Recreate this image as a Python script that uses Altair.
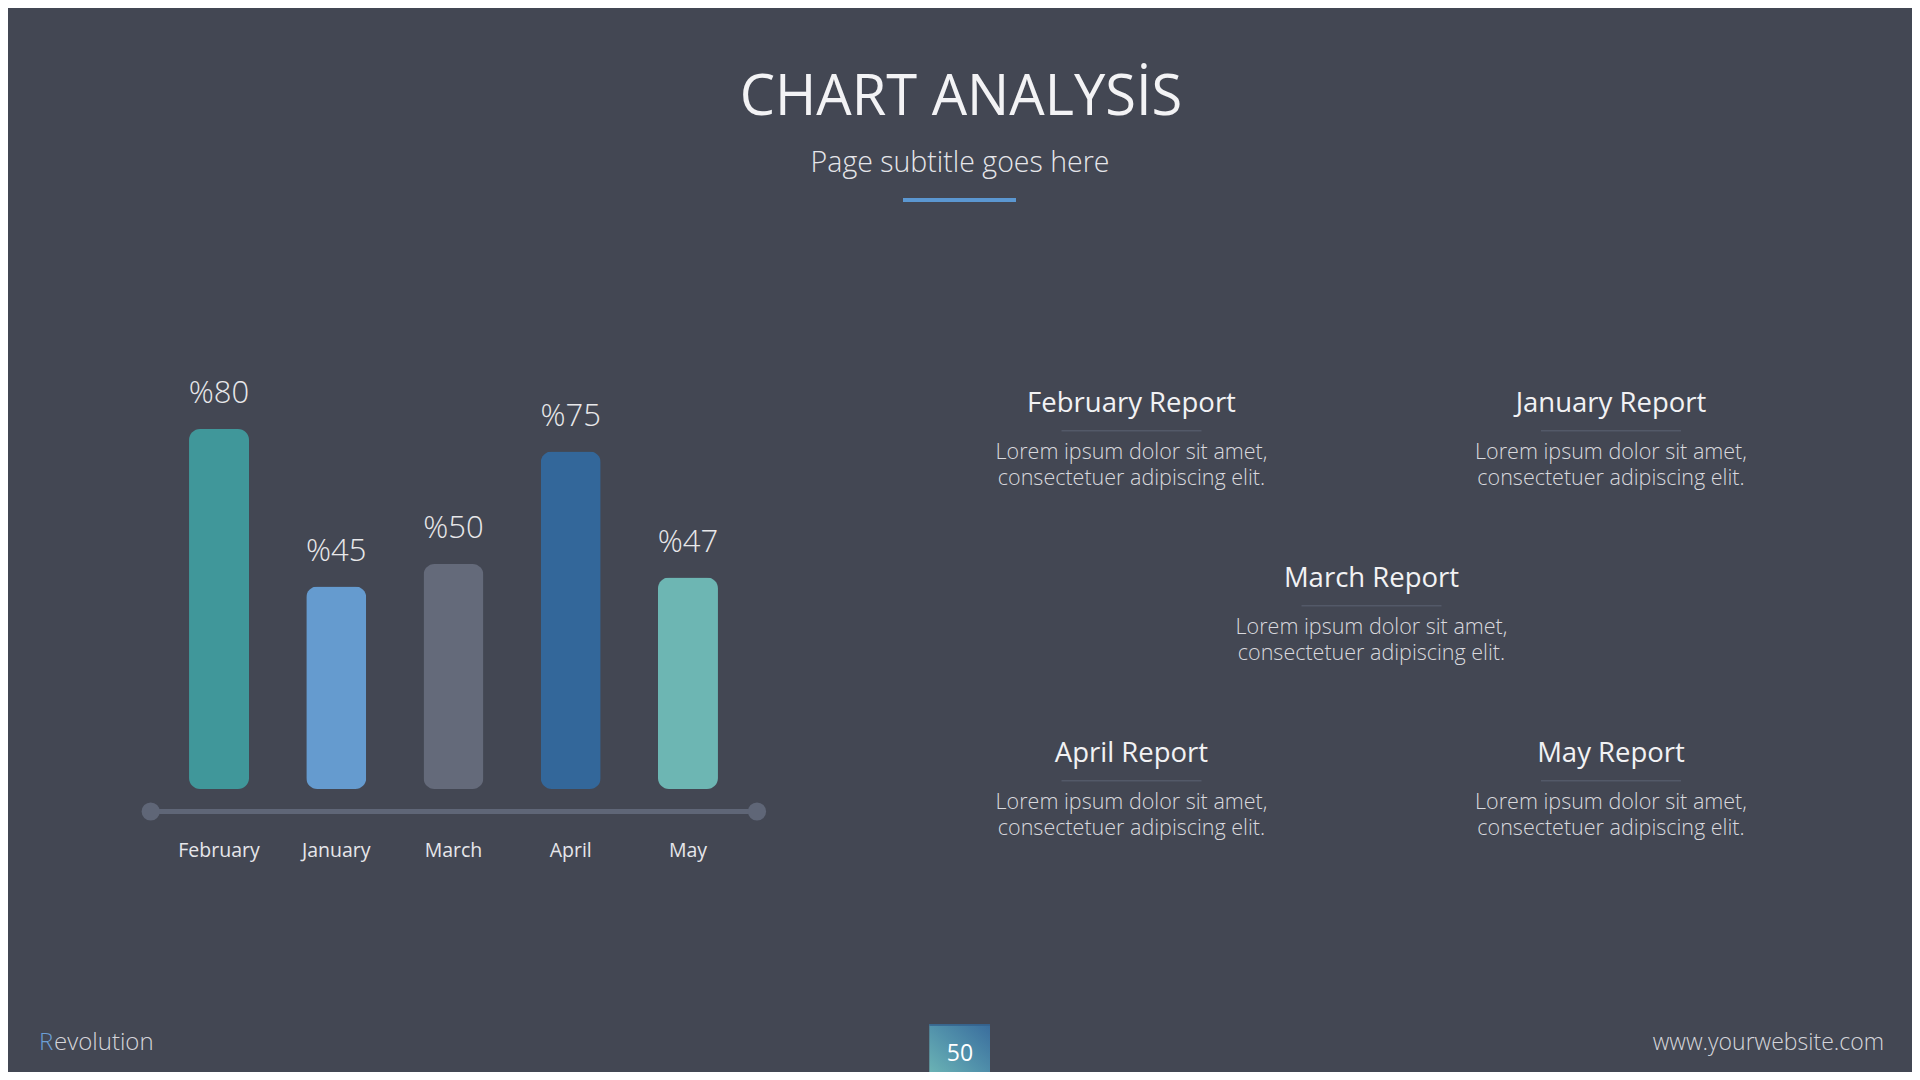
import altair as alt
import pandas as pd

# ---------------- data ----------------
months = ["February", "January", "March", "April", "May"]
values = [80, 45, 50, 75, 47]
bar_colors = ["#40979a", "#659bcf", "#646a7a", "#33679a", "#6db6b3"]

title_text = "CHART ANALYSİS"
subtitle_text = "Page subtitle goes here"
report_titles = ["February Report", "January Report", "March Report", "April Report", "May Report"]
body_line1 = "Lorem ipsum dolor sit amet,"
body_line2 = "consectetuer adipiscing elit."
brand_first = "R"
brand_rest = "evolution"
page_number = "50"
website = "www.yourwebsite.com"

# ---------------- style / layout ----------------
OFF = 8  # page margin
W, H = 1920 - 2 * OFF, 1080 - 2 * OFF
BG = "#434753"
FONT = "Open Sans"


def px(v):
    return v - OFF


df = pd.DataFrame({"month": months, "value": values})

xscale = alt.Scale(domain=months, range=[px(160.4), px(746.6)], paddingInner=0, paddingOuter=0)
yscale = alt.Scale(domain=[0, 100], range=[px(789), px(339)])

base = alt.Chart(df)

bars = base.mark_bar(size=60, cornerRadius=11).encode(
    x=alt.X("month:N", sort=months, scale=xscale, axis=None),
    y=alt.Y("value:Q", scale=yscale, axis=None),
    color=alt.Color("month:N", scale=alt.Scale(domain=months, range=bar_colors), legend=None),
)

value_labels = base.transform_calculate(lbl="'%' + datum.value").mark_text(
    font=FONT, fontSize=31, fontWeight=300, color="#e8e8ea", baseline="alphabetic", dy=-26
).encode(
    x=alt.X("month:N", sort=months, scale=xscale, axis=None),
    y=alt.Y("value:Q", scale=yscale, axis=None),
    text="lbl:N",
)

month_labels = base.mark_text(
    font=FONT, fontSize=19.5, fontWeight=400, color="#e6e6ea", baseline="alphabetic"
).encode(
    x=alt.X("month:N", sort=months, scale=xscale, axis=None),
    y=alt.value(px(857)),
    text="month:N",
)


def one(d):
    return alt.Chart(alt.Data(values=[d]))


axis_line = one({"k": 1}).mark_rule(color="#5f6677", strokeWidth=5).encode(
    x=alt.value(px(150.7)), x2=alt.value(px(757)), y=alt.value(px(811.5))
)
dot_l = one({"k": 1}).mark_circle(color="#5f6677", size=330, opacity=1).encode(
    x=alt.value(px(150.7)), y=alt.value(px(811.5))
)
dot_r = one({"k": 1}).mark_circle(color="#5f6677", size=330, opacity=1).encode(
    x=alt.value(px(757)), y=alt.value(px(811.5))
)


def text_layer(txt, x, y, size, weight, color, align="center", **kw):
    return one({"t": txt}).mark_text(
        font=FONT, fontSize=size, fontWeight=weight, color=color,
        align=align, baseline="alphabetic", **kw
    ).encode(x=alt.value(px(x)), y=alt.value(px(y)), text="t:N")


layers = [bars, value_labels, month_labels, axis_line, dot_l, dot_r]

# header
layers.append(text_layer(title_text, 961, 115, 56, 500, "#f3f3f5"))
layers.append(text_layer(subtitle_text, 960, 172, 28.5, 300, "#e6e6ea"))
layers.append(one({"k": 1}).mark_rule(color="#5b97d1", strokeWidth=4).encode(
    x=alt.value(px(903)), x2=alt.value(px(1016)), y=alt.value(px(200))))

# report blocks
report_pos = [(1131.5, 411.7), (1611, 411.7), (1371.5, 586.7), (1131.5, 761.7), (1611, 761.7)]
for name, (cx, ty) in zip(report_titles, report_pos):
    layers.append(text_layer(name, cx, ty, 27.5, 500, "#f2f2f4"))
    layers.append(one({"k": 1}).mark_rule(color="#535968", strokeWidth=1.5).encode(
        x=alt.value(px(cx - 70)), x2=alt.value(px(cx + 70)), y=alt.value(px(ty + 19))))
    layers.append(text_layer(body_line1, cx, ty + 47.6, 21.5, 300, "#d9d9de"))
    layers.append(text_layer(body_line2, cx, ty + 72.8, 21.5, 300, "#d9d9de"))

# footer
layers.append(text_layer(brand_first, 39, 1050, 24, 300, "#6c9fd6", align="left"))
layers.append(text_layer(brand_rest, 54, 1050, 24, 300, "#d5d5da", align="left"))
layers.append(text_layer(website, 1884, 1050, 23, 300, "#d5d5da", align="right"))

grad = alt.Gradient(
    gradient="linear",
    stops=[alt.GradientStop(color="#6fb8b6", offset=0),
           alt.GradientStop(color="#5292ab", offset=0.5),
           alt.GradientStop(color="#3a6d9d", offset=1)],
    x1=0, y1=1, x2=1, y2=0,
)
layers.append(one({"k": 1}).mark_rect(color=grad).encode(
    x=alt.value(px(929.3)), x2=alt.value(px(990)), y=alt.value(px(1024.3)), y2=alt.value(px(1080))))
layers.append(one({"k": 1}).mark_rule(color="#33608c", strokeWidth=1.5).encode(
    x=alt.value(px(929.3)), x2=alt.value(px(990)), y=alt.value(px(1025))))
layers.append(text_layer(page_number, 960, 1061, 23, 400, "#ffffff"))

chart = alt.layer(*layers).properties(
    width=W, height=H, autosize=alt.AutoSizeParams(type="none"), padding=0,
    background=BG,
).configure_view(strokeWidth=0)

chart.save("out.html", embed_options={"renderer": "svg", "actions": False})
